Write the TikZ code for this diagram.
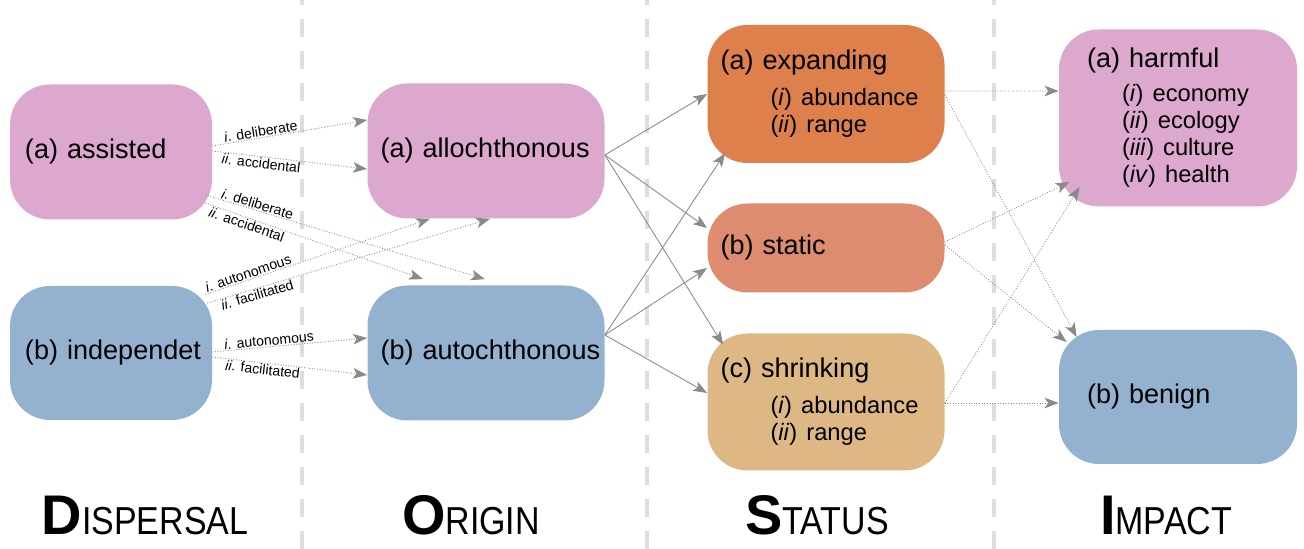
\documentclass[tikz,border=0pt]{standalone}
\usepackage{fontspec}
\setmainfont{Liberation Sans}
\usetikzlibrary{arrows.meta}

\definecolor{pinkbox}{HTML}{DDA8CE}
\definecolor{bluebox}{HTML}{94B2D0}
\definecolor{expandbox}{HTML}{DE804C}
\definecolor{staticbox}{HTML}{DE8C70}
\definecolor{shrinkbox}{HTML}{DEB884}
\definecolor{sepgray}{HTML}{DDDDDD}
\definecolor{arrowgray}{HTML}{8A8A8A}

\newcommand{\subline}[2]{\hspace*{#1}{\fontsize{13.5}{15.4}\selectfont #2}}
\newcommand{\headword}[2]{{\fontsize{31.8}{32}\selectfont\bfseries #1}\scalebox{0.87}[1]{\fontsize{22.2}{24}\selectfont #2}}

\begin{document}
\begin{tikzpicture}[
    cat/.style={rectangle, rounded corners=0.8cm, minimum height=2.7cm, inner xsep=0.3cm, inner ysep=0pt, align=left, font=\fontsize{15.4}{15.4}\selectfont, execute at begin node={\hyphenpenalty=10000\relax}},
    disp/.style={cat, text width=3.44cm},
    orig/.style={cat, text width=4.22cm, inner xsep=0.26cm},
    stat/.style={cat, text width=4.22cm, inner xsep=0.26cm},
    imp/.style={cat, text width=3.64cm, inner xsep=0.56cm},
    arrow/.style={arrowgray, line width=0.5pt, -{Stealth[length=8pt,width=6pt,inset=2pt]}},
    dotarrow/.style={arrow, densely dotted},
    lbl/.style={font=\fontsize{8}{9}\selectfont, text=black, inner sep=0.5pt, sloped},
    sep/.style={sepgray, line width=2.8pt, dash pattern=on 0.36cm off 0.28cm},
    heading/.style={anchor=base}
]
\useasboundingbox (0,0) rectangle (26.08,10.98);

% Column separators
\foreach \x in {6.04,12.94,19.88}
    \draw[sep] (\x,0) -- (\x,10.98);

% Dispersal
\node[disp, fill=pinkbox] (assisted) at (2.22,7.94) {(a) assisted};
\node[disp, fill=bluebox, minimum height=2.68cm] (independet) at (2.22,3.92) {(b)~independet};

% Origin
\node[orig, fill=pinkbox] (alloch) at (9.72,7.96) {(a) allochthonous};
\node[orig, fill=bluebox] (autoch) at (9.72,3.92) {(b)~autochthonous};

% Status
\node[stat, fill=expandbox, minimum height=2.76cm] (expanding) at (16.52,9.10) {(a) expanding\\[5pt]\subline{1cm}{(\textit{i}) abundance}\\\subline{1cm}{(\textit{ii}) range}};
\node[stat, fill=staticbox, minimum height=1.78cm] (static) at (16.52,6.02) {(b) static};
\node[stat, fill=shrinkbox, minimum height=2.74cm] (shrinking) at (16.52,2.94) {(c) shrinking\\[5pt]\subline{1cm}{(\textit{i}) abundance}\\\subline{1cm}{(\textit{ii}) range}};

% Impact
\node[imp, fill=pinkbox, minimum height=3.54cm] (harmful) at (23.56,8.62) {(a) harmful\\[4pt]\subline{0.7cm}{(\textit{i}) economy}\\\subline{0.7cm}{(\textit{ii}) ecology}\\\subline{0.7cm}{(\textit{iii}) culture}\\\subline{0.7cm}{(\textit{iv}) health}};
\node[imp, fill=bluebox, minimum height=2.68cm] (benign) at (23.56,3.04) {(b) benign};

% Dispersal -> origin
\draw[dotarrow] ([yshift=0.12cm]assisted.east) -- node[lbl, above, pos=0.32] {\textit{i}. deliberate} ([yshift=0.62cm]alloch.west);
\draw[dotarrow] ([yshift=0.02cm]assisted.east) -- node[lbl, below, pos=0.32] {\textit{ii}. accidental} ([yshift=-0.36cm]alloch.west);
\draw[dotarrow] ([xshift=-0.14cm,yshift=-0.86cm]assisted.east) -- node[lbl, above, pos=0.18] {\textit{i}. deliberate} ([xshift=-0.02cm,yshift=0.12cm]autoch.north);
\draw[dotarrow] ([xshift=-0.14cm,yshift=-1.02cm]assisted.east) -- node[lbl, below, pos=0.2] {\textit{ii}. accidental} ([xshift=-1.26cm,yshift=0.12cm]autoch.north);
\draw[dotarrow] ([xshift=-0.14cm,yshift=1.17cm]independet.east) -- node[lbl, above, pos=0.2] {\textit{i}. autonomous} ([xshift=-1.12cm]alloch.south);
\draw[dotarrow] ([xshift=-0.10cm,yshift=1.0cm]independet.east) -- node[lbl, below, pos=0.17] {\textit{ii}. facilitated} ([xshift=0.08cm]alloch.south);
\draw[dotarrow] ([yshift=0.02cm]independet.east) -- node[lbl, above, pos=0.37] {\textit{i}. autonomous} ([yshift=0.30cm]autoch.west);
\draw[dotarrow] ([yshift=-0.08cm]independet.east) -- node[lbl, below, pos=0.33] {\textit{ii}. facilitated} ([yshift=-0.44cm]autoch.west);

% Origin -> status
\draw[arrow] ([yshift=-0.08cm]alloch.east) -- (expanding.west);
\draw[arrow] ([yshift=-0.08cm]alloch.east) -- ([yshift=0.4cm]static.west);
\draw[arrow] ([yshift=-0.08cm]alloch.east) -- ([xshift=0.32cm,yshift=1.14cm]shrinking.west);
\draw[arrow] ([yshift=0.36cm]autoch.east) -- ([xshift=0.36cm,yshift=-1.18cm]expanding.west);
\draw[arrow] ([yshift=0.36cm]autoch.east) -- ([yshift=-0.4cm]static.west);
\draw[arrow] ([yshift=0.36cm]autoch.east) -- ([yshift=0.18cm]shrinking.west);

% Status -> impact
\draw[dotarrow] ([yshift=0.06cm]expanding.east) -- ([yshift=0.54cm]harmful.west);
\draw[dotarrow] ([yshift=-0.02cm]expanding.east) -- ([xshift=0.36cm,yshift=1.2cm]benign.west);
\draw[dotarrow] ([yshift=0.12cm]static.east) -- ([xshift=0.22cm,yshift=-1.28cm]harmful.west);
\draw[dotarrow] ([yshift=0.06cm]static.east) -- ([xshift=0.16cm,yshift=1.1cm]benign.west);
\draw[dotarrow] ([yshift=-0.02cm]shrinking.east) -- ([xshift=0.42cm,yshift=-1.38cm]harmful.west);
\draw[dotarrow] ([yshift=-0.02cm]shrinking.east) -- ([yshift=-0.12cm]benign.west);

% Column headings
\node[heading] (hdisp) at (2.9,0.28) {\headword{D}{ISPERSAL}};
\node[heading] (horig) at (9.42,0.28) {\headword{O}{RIGIN}};
\node[heading] (hstat) at (16.34,0.28) {\headword{S}{TATUS}};
\node[heading] (himp) at (23.32,0.28) {\headword{I}{MPACT}};

\end{tikzpicture}
\end{document}
